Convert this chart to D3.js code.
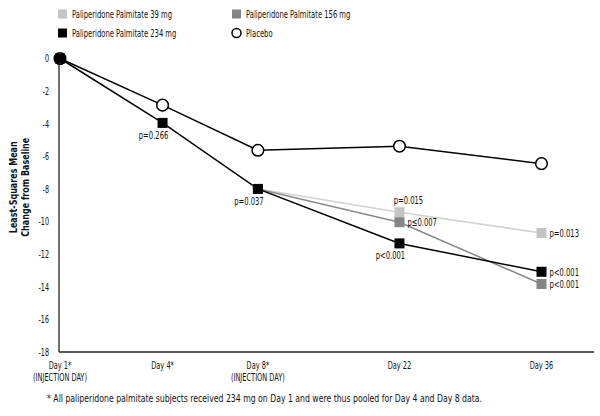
<!DOCTYPE html>
<html>
<head>
<meta charset="utf-8">
<script src="https://cdn.jsdelivr.net/npm/d3@7"></script>
<style>
  html, body { margin: 0; padding: 0; background: #fff; }
  svg text { font-family: "Liberation Sans Narrow", "DejaVu Sans Condensed", "Arial Narrow", sans-serif; fill: #111; }
</style>
</head>
<body>
<svg id="chart" width="600" height="416"></svg>
<script>
// ---- Data ----
const days = [1, 4, 8, 22, 36];
const dayLabels = [["Day 1*", "(INJECTION DAY)"], ["Day 4*"], ["Day 8*", "(INJECTION DAY)"], ["Day 22"], ["Day 36"]];
const yTicks = [0, -2, -4, -6, -8, -10, -12, -14, -16, -18];

const placebo = [0, -2.86, -5.63, -5.38, -6.45];
const pp234 = [0, -3.95, -8.0, -11.34, -13.08];
const pp156 = [null, null, -8.0, -10.04, -13.83];
const pp39 = [null, null, -8.0, -9.43, -10.70];

const seriesNames = ["Paliperidone Palmitate 39 mg", "Paliperidone Palmitate 156 mg", "Paliperidone Palmitate 234 mg", "Placebo"];
const yTitle = ["Least-Squares Mean", "Change from Baseline"];

// p-value annotations: [series, day index, label, placement]
const pLabels = [
  ["pp234", 1, "p=0.266", "below"],
  ["pp234", 2, "p=0.037", "below"],
  ["pp39", 3, "p=0.015", "above"],
  ["pp156", 3, "p\u22640.007", "right"],
  ["pp234", 3, "p<0.001", "below"],
  ["pp39", 4, "p=0.013", "right"],
  ["pp234", 4, "p<0.001", "right"],
  ["pp156", 4, "p<0.001", "right"]
];

const footnote = "* All paliperidone palmitate subjects received 234 mg on Day 1 and were thus pooled for Day 4 and Day 8 data.";

// ---- Layout ----
const svg = d3.select("#chart");
const mLeft = 60, mRight = 541.5, axisEnd = 594;
const mTop = 58.5, mBottom = 352;

// narrow-typeface emulation: [calibration string, its width in the original typesetting]
const narrow = {
  tick: ["-18", 10.5],
  title: ["Change from Baseline", 99],
  xlab: ["(INJECTION DAY)", 54],
  pval: ["p<0.001", 29.5],
  legend: ["Paliperidone Palmitate 39 mg", 100],
  foot: [footnote, 435]
};

const x = d3.scaleLinear()
  .domain(days)
  .range([0, 0.213, 0.411, 0.705, 1].map(f => mLeft + f * (mRight - mLeft)));
const y = d3.scaleLinear().domain([0, -18]).range([mTop, mBottom]);

const seriesMap = { placebo, pp234, pp156, pp39 };
const styles = {
  pp39: { color: "#c4c4c4", line: "#d2d2d2" },
  pp156: { color: "#858585", line: "#8a8a8a" },
  pp234: { color: "#000", line: "#000" },
  placebo: { color: "#000", line: "#000" }
};

// Axes
svg.append("line").attr("x1", mLeft - 1).attr("x2", mLeft - 1).attr("y1", mTop - 3).attr("y2", mBottom)
  .attr("stroke", "#222").attr("stroke-width", 1.3);
svg.append("line").attr("x1", mLeft - 1).attr("x2", axisEnd).attr("y1", mBottom).attr("y2", mBottom)
  .attr("stroke", "#222").attr("stroke-width", 1.3);

svg.append("g").selectAll("text").data(yTicks).join("text")
  .attr("x", 49).attr("y", d => y(d)).attr("dy", "0.35em")
  .attr("text-anchor", "end").attr("font-size", 11).attr("data-n", "tick").text(d => d);

const yt = svg.append("g").attr("transform", `translate(19,${(mTop + mBottom) / 2 - 18}) rotate(-90)`);
yt.selectAll("text").data(yTitle).join("text")
  .attr("x", 0).attr("y", (d, i) => i === 0 ? -2 : 9.8)
  .attr("text-anchor", "middle").attr("font-size", 11).attr("font-weight", "bold")
  .attr("data-n", "title").text(d => d);

const xLabelData = [];
days.forEach((d, i) => dayLabels[i].forEach((t, j) => xLabelData.push({ d, t, j })));
svg.append("g").selectAll("text").data(xLabelData).join("text")
  .attr("x", d => x(d.d)).attr("y", d => 368.5 + d.j * 12.5)
  .attr("text-anchor", "middle").attr("font-size", 11).attr("data-n", "xlab").text(d => d.t);

// Lines
const lineGen = d3.line().defined(d => d.v !== null).x(d => x(d.day)).y(d => y(d.v));
["pp39", "pp156", "pp234", "placebo"].forEach(k => {
  const data = days.map((day, i) => ({ day, v: seriesMap[k][i] }));
  svg.append("path").datum(data).attr("d", lineGen).attr("fill", "none")
    .attr("stroke", styles[k].line).attr("stroke-width", k === "pp39" || k === "pp156" ? 1.6 : 1.5);
});

// Markers
const sq = 10;
svg.append("g").selectAll("circle").data(days.map((day, i) => ({ day, v: placebo[i] }))).join("circle")
  .attr("cx", d => x(d.day)).attr("cy", d => y(d.v)).attr("r", 5.8)
  .attr("fill", "#fff").attr("stroke", "#000").attr("stroke-width", 1.5);

["pp39", "pp156", "pp234"].forEach(k => {
  const data = days.map((day, i) => ({ day, v: seriesMap[k][i] })).filter(d => d.v !== null);
  svg.append("g").selectAll("rect").data(data).join("rect")
    .attr("x", d => x(d.day) - sq / 2).attr("y", d => y(d.v) - sq / 2)
    .attr("width", sq).attr("height", sq).attr("fill", styles[k].color);
});

// p-value labels
svg.append("g").selectAll("text").data(pLabels).join("text")
  .attr("font-size", 11).attr("data-n", "pval")
  .attr("x", d => {
    const cx = x(days[d[1]]);
    if (d[3] === "right") return cx + 8;
    if (d[3] === "above") return cx + 9;
    return cx - 9;
  })
  .attr("y", d => {
    const cy = y(seriesMap[d[0]][d[1]]);
    if (d[3] === "below") return cy + 16;
    if (d[3] === "above") return cy - 8;
    return cy + 4;
  })
  .attr("text-anchor", d => d[3] === "right" ? "start" : "middle")
  .text(d => d[2]);

// Legend
const legendItems = [
  { name: seriesNames[0], key: "pp39", lx: 58, ly: 14 },
  { name: seriesNames[1], key: "pp156", lx: 232, ly: 14 },
  { name: seriesNames[2], key: "pp234", lx: 58, ly: 33 },
  { name: seriesNames[3], key: "placebo", lx: 232, ly: 33 }
];
const lg = svg.append("g").selectAll("g").data(legendItems).join("g")
  .attr("transform", d => `translate(${d.lx},${d.ly})`);
lg.each(function (d) {
  const g = d3.select(this);
  if (d.key === "placebo") {
    g.append("circle").attr("cx", 4.5).attr("cy", 0).attr("r", 4.5).attr("fill", "#fff")
      .attr("stroke", "#000").attr("stroke-width", 1.5);
  } else {
    g.append("rect").attr("x", 0).attr("y", -4.5).attr("width", 9).attr("height", 9).attr("fill", styles[d.key].color);
  }
  g.append("text").attr("x", 14).attr("y", 0).attr("dy", "0.35em").attr("font-size", 11)
    .attr("data-n", "legend").text(d.name);
});

// Footnote
svg.append("text").attr("x", 47).attr("y", 402).attr("font-size", 10.5).attr("data-n", "foot").text(footnote);

// Condense text horizontally to mimic the narrow typeface of the original
const factors = {};
svg.selectAll("text").each(function () {
  const n = this.getAttribute("data-n");
  if (!n || !narrow[n]) return;
  if (factors[n] === undefined) {
    const probe = svg.append("text").attr("font-size", this.getAttribute("font-size"))
      .attr("font-weight", this.getAttribute("font-weight")).text(narrow[n][0]);
    const w = probe.node().getComputedTextLength();
    probe.remove();
    factors[n] = Math.min(1, narrow[n][1] / w);
  }
  const L = this.getComputedTextLength();
  if (L > 0) d3.select(this).attr("textLength", L * factors[n]).attr("lengthAdjust", "spacingAndGlyphs");
});
</script>
</body>
</html>
